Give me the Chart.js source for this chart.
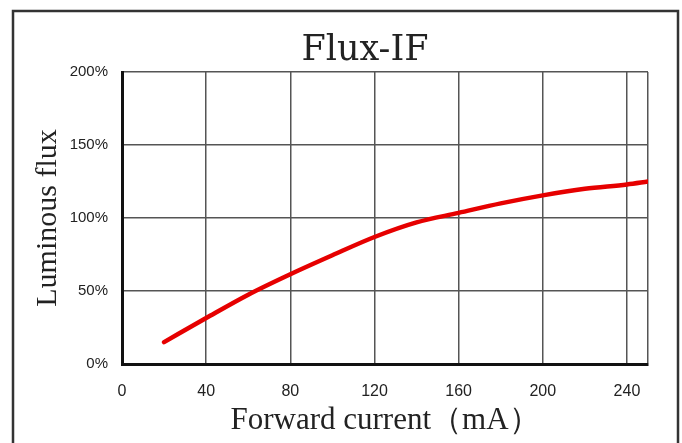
<!DOCTYPE html>
<html>
<head>
<meta charset="utf-8">
<script src="https://cdn.jsdelivr.net/npm/chart.js@4.4.0/dist/chart.umd.min.js"></script>
<style>
  html, body { margin: 0; padding: 0; background: #fff; }
  #wrap { position: relative; width: 682px; height: 443px; }
</style>
</head>
<body>
<div id="wrap"><canvas id="c"></canvas></div>
<script>
// ---- data ----
const currents = [20, 40, 60, 80, 100, 120, 140, 160, 180, 200, 220, 240, 250];   // mA
const fluxPct  = [15, 31.5, 47.5, 61.5, 74.5, 87, 97, 103.5, 110, 115.5, 120, 123, 125]; // %
const xTickValues = [0, 40, 80, 120, 160, 200, 240];
const yTickValues = [0, 50, 100, 150, 200];
const titleText = 'Flux-IF';
const xTitle = 'Forward current（mA）';
const yTitle = 'Luminous flux';

const points = currents.map((c, i) => ({ x: c, y: fluxPct[i] }));

const frame = {
  id: 'frame',
  afterLayout(chart) {
    // centre the chart title the way the reference does (slightly left of the plot centre)
    if (chart.titleBlock) {
      chart.titleBlock.left = 82;
      chart.titleBlock.right = chart.chartArea.right;
    }
  },
  beforeDraw(chart) {
    const ctx = chart.ctx;
    ctx.save();
    ctx.fillStyle = '#fff';
    ctx.fillRect(0, 0, chart.width, chart.height);
    ctx.strokeStyle = '#333';
    ctx.lineWidth = 2.5;
    ctx.strokeRect(13, 11, 665, 460);
    ctx.restore();
  }
};

new Chart(document.getElementById('c'), {
  type: 'line',
  data: {
    datasets: [{
      data: points,
      borderColor: '#e60000',
      borderWidth: 4.5,
      pointRadius: 0,
      fill: false,
      cubicInterpolationMode: 'monotone',
      borderCapStyle: 'round'
    }]
  },
  options: {
    responsive: true,
    maintainAspectRatio: false,
    animation: false,
    layout: { padding: { left: 0, right: 34, top: 0, bottom: 0 } },
    plugins: {
      legend: { display: false },
      tooltip: { enabled: false },
      title: {
        display: true,
        text: titleText,
        color: '#222',
        font: { family: 'DejaVu Serif', size: 35, weight: 'normal', lineHeight: 1.2 },
        padding: { top: 30, bottom: 0 }
      }
    },
    scales: {
      x: {
        type: 'linear',
        min: 0,
        max: 250,
        afterBuildTicks(scale) {
          scale.ticks = xTickValues.concat([250]).map(v => ({ value: v }));
        },
        afterFit(scale) { scale.height = 79; },
        ticks: {
          color: '#222',
          padding: 18,
          maxRotation: 0,
          font: { family: 'Liberation Sans', size: 16 },
          callback: (v) => xTickValues.includes(v) ? String(v) : ''
        },
        grid: { color: '#555', lineWidth: 1.5, drawTicks: false },
        border: { color: '#111', width: 3 },
        title: {
          display: true,
          text: xTitle,
          color: '#222',
          font: { family: 'Liberation Serif', size: 31, lineHeight: 1.2 },
          padding: { top: 0, bottom: 4 }
        }
      },
      y: {
        min: 0,
        max: 200,
        afterBuildTicks(scale) {
          scale.ticks = yTickValues.map(v => ({ value: v }));
        },
        afterFit(scale) { scale.width = 122; },
        ticks: {
          color: '#222',
          padding: 14,
          font: { family: 'Liberation Sans', size: 15 },
          callback: (v) => v + '%'
        },
        grid: { color: '#555', lineWidth: 1.5, drawTicks: false },
        border: { color: '#111', width: 3 },
        title: {
          display: true,
          text: yTitle,
          color: '#222',
          font: { family: 'Liberation Serif', size: 30, lineHeight: 1.2 },
          padding: { top: 30, bottom: 0 }
        }
      }
    }
  },
  plugins: [frame]
});
</script>
</body>
</html>
